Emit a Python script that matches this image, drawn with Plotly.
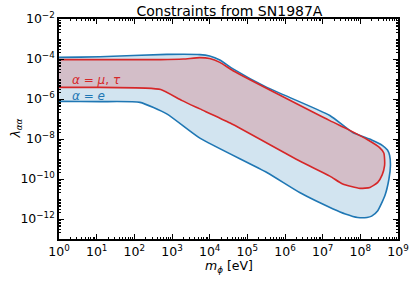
import plotly.graph_objects as go

# alpha = e : closed boundary (upper edge left->right, then lower edge right->left)
e_mass = [0.8, 1.0, 12.3, 724, 5.5e3, 1.0e4, 1.86e4, 4.17e4, 3.3e5, 1.55e7, 6.3e7,
          2.0e8, 3.9e8, 5.25e8, 6.0e8, 6.3e8, 5.75e8, 4.5e8, 2.9e8, 2.0e8, 1.5e8, 8.5e7,
          4.0e7, 1.9e7, 2.45e6, 3.3e5, 5.5e3, 724, 141, 12.3, 1.0, 0.8]
e_lam = [1.2e-4, 1.2e-4, 1.3e-4, 1.7e-4, 1.66e-4, 1.4e-4, 8.9e-5, 3.2e-5, 3.8e-6, 1.5e-7, 2.1e-8,
         8.9e-9, 4.7e-9, 2.8e-9, 1.5e-9, 4.7e-10, 1.0e-10, 1.5e-11, 2.6e-12, 1.4e-12, 1.2e-12, 1.2e-12,
         1.8e-12, 3.2e-12, 2.1e-11, 2.1e-10, 1.1e-8, 1.8e-7, 6.8e-7, 7.4e-7, 7.6e-7, 7.6e-7]

# alpha = mu, tau
mt_mass = [0.8, 1.0, 12.3, 501, 2.0e3, 5.5e3, 1.0e4, 1.86e4, 4.17e4, 1.55e7, 4.4e7,
           1.6e8, 3.2e8, 4.2e8, 4.4e8, 4.4e8, 3.8e8, 2.9e8, 1.8e8, 9.8e7, 3.4e7, 1.55e7,
           2.45e6, 3.5e4, 5.5e3, 1.86e3, 501, 200, 12.3, 1.0, 0.8]
mt_lam = [9.3e-5, 9.3e-5, 9.3e-5, 9.3e-5, 1.0e-4, 1.17e-4, 1.05e-4, 6.8e-5, 2.6e-5, 8.3e-8, 3.2e-8,
          8.9e-9, 3.8e-9, 2.0e-9, 1.0e-9, 4.7e-10, 1.6e-10, 6.8e-11, 3.8e-11, 3.4e-11, 5.6e-11, 1.4e-10,
          7.9e-10, 6.3e-8, 3.2e-7, 8.3e-7, 2.95e-6, 3.5e-6, 3.8e-6, 3.8e-6, 3.8e-6]

x_ticks = [10.0**k for k in range(0, 10)]
x_labels = ["10<sup>%d</sup>" % k for k in range(0, 10)]
y_ticks = [10.0**k for k in range(-12, -1, 2)]
y_labels = ["10<sup>\u2212%d</sup>" % (-k) for k in range(-12, -1, 2)]

BLUE = "#1f77b4"
RED = "#d62728"
FONT = "DejaVu Sans"

fig = go.Figure()
fig.add_trace(go.Scatter(x=e_mass, y=e_lam, mode="lines", fill="toself",
                         fillcolor="rgba(31,119,180,0.2)",
                         line=dict(color=BLUE, width=1.6, shape="spline", smoothing=0.5),
                         showlegend=False, hoverinfo="skip"))
fig.add_trace(go.Scatter(x=mt_mass, y=mt_lam, mode="lines", fill="toself",
                         fillcolor="rgba(214,39,40,0.2)",
                         line=dict(color=RED, width=1.6, shape="spline", smoothing=0.5),
                         showlegend=False, hoverinfo="skip"))

minor_x = [m * 10.0**k for k in range(0, 9) for m in range(2, 10)]
minor_y = [10.0**k for k in range(-13, -1, 2)] + [m * 10.0**k for k in range(-13, -2) for m in range(2, 10)]

axis_common = dict(type="log", showline=True, linecolor="black", linewidth=1.5,
                   mirror="ticks", ticks="inside", ticklen=5, tickwidth=1.2,
                   tickcolor="black", showgrid=False, zeroline=False, automargin=False,
                   tickfont=dict(family=FONT, size=12.5, color="black"))

fig.update_xaxes(**axis_common, range=[0, 9], tickmode="array", tickvals=x_ticks,
                 ticktext=x_labels,
                 minor=dict(tickmode="array", tickvals=minor_x, ticks="inside",
                            ticklen=2.5, tickwidth=0.8, tickcolor="black"))
fig.update_yaxes(**axis_common, range=[-13, -2], tickmode="array", tickvals=y_ticks,
                 ticktext=y_labels,
                 minor=dict(tickmode="array", tickvals=minor_y, ticks="inside",
                            ticklen=2.5, tickwidth=0.8, tickcolor="black"))

fig.add_annotation(text="<i>m</i><sub><i>ϕ</i></sub> [eV]", xref="paper", yref="paper",
                   x=0.5, y=-0.123, xanchor="center", yanchor="middle", showarrow=False,
                   font=dict(family=FONT, size=12.5, color="black"))
fig.add_annotation(text="<i>λ</i><sub><i>αα</i></sub>", xref="paper", yref="paper",
                   x=-0.128, y=0.5, xanchor="center", yanchor="middle", showarrow=False,
                   textangle=-90, font=dict(family=FONT, size=12.5, color="black"))

fig.add_annotation(text="<i>α</i> = <i>μ</i>, <i>τ</i>", xref="paper", yref="paper",
                   x=0.033, y=0.723, xanchor="left", yanchor="middle", showarrow=False,
                   font=dict(family=FONT, size=12, color=RED))
fig.add_annotation(text="<i>α</i> = <i>e</i>", xref="paper", yref="paper",
                   x=0.033, y=0.652, xanchor="left", yanchor="middle", showarrow=False,
                   font=dict(family=FONT, size=12, color=BLUE))

fig.update_layout(width=415, height=283,
                  margin=dict(l=59, r=17, t=19, b=44),
                  paper_bgcolor="white", plot_bgcolor="white",
                  title=dict(text="Constraints from SN1987A", x=0.553, xanchor="center",
                             y=0.962, yanchor="middle",
                             font=dict(family=FONT, size=14, color="black")))

fig.write_html("out.html", config={"displayModeBar": False},
               post_script="document.body.style.margin='0';document.body.style.overflow='hidden';")
